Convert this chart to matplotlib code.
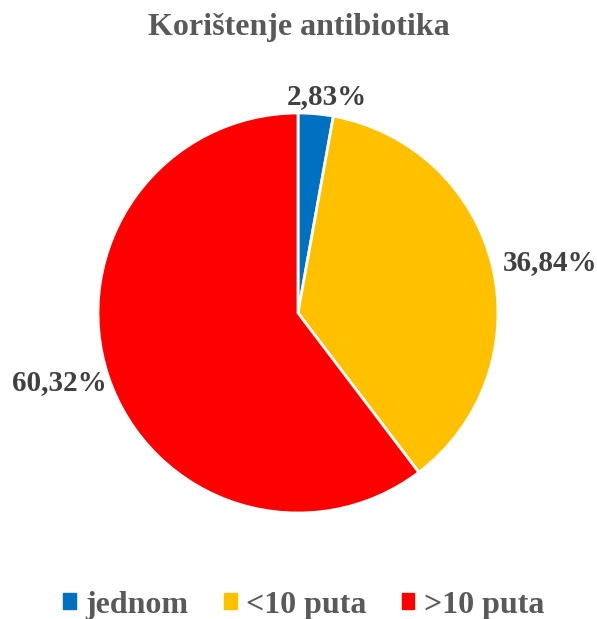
import numpy as np
import matplotlib.pyplot as plt
from matplotlib.patches import Patch

# podaci
kategorije = ["jednom", "<10 puta", ">10 puta"]
postoci = [2.83, 36.84, 60.32]
boje = ["#0070C0", "#FFC000", "#FF0000"]
oznake = ["2,83%", "36,84%", "60,32%"]

plt.rcParams['font.family'] = ['Liberation Serif', 'DejaVu Serif']

fig = plt.figure(figsize=(5.97, 6.19), dpi=100)
W, H = 597, 619
cx, cy, r = 298, 313, 200
ax = fig.add_axes([(cx - r) / W, (H - cy - r) / H, 2 * r / W, 2 * r / H])

wedges, _ = ax.pie(postoci, colors=boje, startangle=90, counterclock=False,
                   radius=1, wedgeprops=dict(edgecolor="white", linewidth=2))
ax.set_xlim(-1, 1)
ax.set_ylim(-1, 1)
ax.set_aspect("equal")
ax.axis("off")

# oznake postotaka izvan isječaka (pomak od ruba u pikselima)
pomaci = [(11, 17), (58, 4), (-49, -6)]
for w, tekst, pom in zip(wedges, oznake, pomaci):
    kut = np.deg2rad((w.theta1 + w.theta2) / 2)
    ax.annotate(tekst, (np.cos(kut), np.sin(kut)), xytext=pom,
                textcoords="offset pixels", ha="center", va="center",
                fontsize=21, fontweight="bold", color="#404040",
                annotation_clip=False)

fig.text(0.5, 1 - 28 / H, "Korištenje antibiotika", ha="center", va="center",
         fontsize=23, fontweight="bold", color="#595959")

rucke = [Patch(facecolor=b, edgecolor=b) for b in boje]
fig.legend(rucke, kategorije, loc="center", bbox_to_anchor=(0.509, 1 - 605 / H),
           ncol=3, frameon=False, handlelength=0.4, handleheight=0.4,
           handletextpad=0.3, columnspacing=1.1,
           prop=dict(size=23, weight="bold"), labelcolor="#595959")

fig.savefig("out.png", dpi=100)
